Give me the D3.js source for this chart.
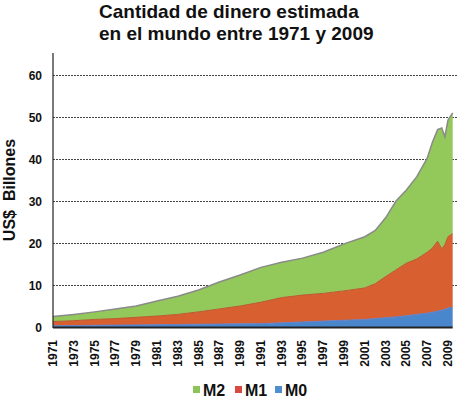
<!DOCTYPE html>
<html>
<head>
<meta charset="utf-8">
<script src="https://cdn.jsdelivr.net/npm/d3@7"></script>
<style>
  body { margin: 0; background: #fff; }
  text { font-family: "Liberation Sans", Arial, sans-serif; font-weight: bold; fill: #111; }
</style>
</head>
<body>
<svg id="chart" width="458" height="399"></svg>
<script>
// years (a few extra points at the end for the 2008 crash wiggle)
var years = [1971, 1973, 1975, 1977, 1979, 1981, 1983, 1985, 1987, 1989, 1991, 1993, 1995, 1997, 1999,
             2001, 2002, 2003, 2004, 2005, 2006, 2007, 2007.5, 2008, 2008.4, 2008.7, 2009, 2009.45];
// top of each band (US$ billones)
var m2Top = [2.5, 3.0, 3.6, 4.3, 5.0, 6.2, 7.3, 8.8, 10.7, 12.4, 14.2, 15.4, 16.4, 17.8, 19.8,
             21.5, 23.0, 26.0, 30.0, 32.6, 35.8, 40.2, 44.0, 47.0, 47.4, 45.3, 49.3, 51.0];
var m1Top = [1.3, 1.5, 1.8, 2.0, 2.3, 2.6, 3.0, 3.6, 4.3, 5.0, 5.9, 7.0, 7.6, 8.0, 8.6,
             9.3, 10.3, 12.0, 13.6, 15.2, 16.2, 17.8, 18.8, 20.4, 18.6, 19.6, 21.5, 22.2];
var m0Top = [0.3, 0.35, 0.4, 0.45, 0.5, 0.55, 0.6, 0.65, 0.7, 0.75, 0.8, 1.0, 1.2, 1.4, 1.6,
             1.8, 2.0, 2.2, 2.4, 2.7, 3.0, 3.3, 3.5, 3.8, 4.0, 4.2, 4.5, 4.7];

var yTicks = [0, 10, 20, 30, 40, 50, 60];
var xTicks = d3.range(1971, 2010, 2);
var legendNames = ["M2", "M1", "M0"];
var legendColors = ["#8dc45a", "#d9493f", "#4f8fd0"];

var svg = d3.select("#chart");

var x = d3.scaleLinear().domain([1971, 2009]).range([53, 448]);
var y = d3.scaleLinear().domain([0, 60]).range([327, 75]);

// title
svg.append("text").attr("x", 99).attr("y", 18).style("font-size", "19px").text("Cantidad de dinero estimada");
svg.append("text").attr("x", 99).attr("y", 40).style("font-size", "19px").text("en el mundo entre 1971 y 2009");

// dashed grid
svg.append("g").selectAll("line")
  .data(yTicks.slice(1))
  .enter().append("line")
  .attr("x1", 53).attr("x2", 458)
  .attr("y1", function(d){ return y(d) + 0.5 }).attr("y2", function(d){ return y(d) + 0.5 })
  .attr("stroke", "#444").attr("stroke-width", 1).attr("stroke-dasharray", "2,1");

var rows = years.map(function(t, i){ return {t: t, m0: m0Top[i], m1: m1Top[i], m2: m2Top[i]} });

function band(lo, hi){
  return d3.area()
    .x(function(d){ return x(d.t) })
    .y0(function(d){ return lo ? y(d[lo]) : y(0) })
    .y1(function(d){ return y(d[hi]) });
}

svg.append("path").datum(rows).attr("d", band("m1", "m2")).attr("fill", "#93c85a");
svg.append("path").datum(rows).attr("d", band("m0", "m1")).attr("fill", "#d85f30");
svg.append("path").datum(rows).attr("d", band(null, "m0")).attr("fill", "#4a86cc");

// edge lines along the bands
svg.append("path").datum(rows)
  .attr("d", d3.line().x(function(d){ return x(d.t) }).y(function(d){ return y(d.m2) }))
  .attr("fill", "none").attr("stroke", "#8a8a8a").attr("stroke-width", 1.5);
svg.append("path").datum(rows)
  .attr("d", d3.line().x(function(d){ return x(d.t) }).y(function(d){ return y(d.m1) }))
  .attr("fill", "none").attr("stroke", "#b85a30").attr("stroke-width", 1);
svg.append("path").datum(rows)
  .attr("d", d3.line().x(function(d){ return x(d.t) }).y(function(d){ return y(d.m0) }))
  .attr("fill", "none").attr("stroke", "#6a7fc0").attr("stroke-width", 1);

// axes lines
svg.append("line").attr("x1", 53).attr("x2", 53).attr("y1", 53).attr("y2", 328).attr("stroke", "#222").attr("stroke-width", 1.2);
svg.append("line").attr("x1", 53).attr("x2", x(2009.45)).attr("y1", 327.5).attr("y2", 327.5).attr("stroke", "#222").attr("stroke-width", 2);

// y tick labels
svg.append("g").selectAll("text")
  .data(yTicks)
  .enter().append("text")
  .attr("x", 42).attr("y", function(d){ return y(d) + 4.5 })
  .attr("text-anchor", "end").style("font-size", "12px")
  .text(function(d){ return d });

// y title
svg.append("text")
  .attr("transform", "translate(15,190) rotate(-90)")
  .attr("text-anchor", "middle").style("font-size", "16px").style("white-space", "pre")
  .text("US$  Billones");

// x tick labels, rotated
svg.append("g").selectAll("text")
  .data(xTicks)
  .enter().append("text")
  .attr("transform", function(d){ return "translate(" + (x(d) + 4) + ",340) rotate(-90)" })
  .attr("text-anchor", "end").style("font-size", "12px")
  .text(function(d){ return d });

// legend
var leg = svg.append("g").attr("transform", "translate(193,390)");
var legX = [0, 42, 82];
legendNames.forEach(function(n, i){
  leg.append("rect").attr("x", legX[i]).attr("y", -4).attr("width", 7).attr("height", 7).attr("fill", legendColors[i]);
  leg.append("text").attr("x", legX[i] + 10).attr("y", 6).style("font-size", "16px").text(n);
});
</script>
</body>
</html>
